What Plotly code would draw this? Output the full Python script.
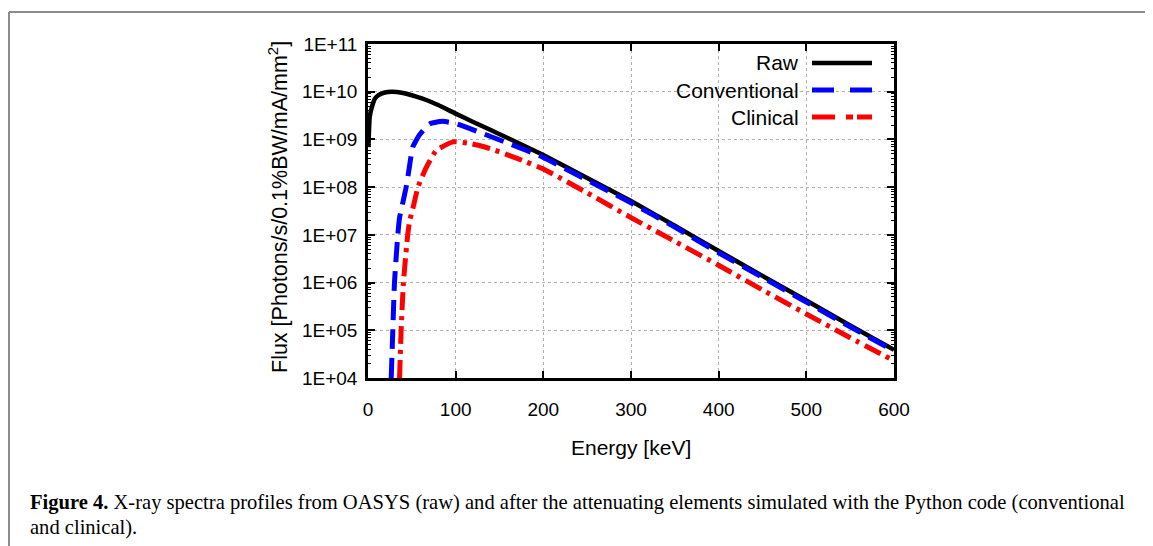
import plotly.graph_objects as go

# ---------------- data ----------------
raw_energy = [0.5, 2, 5, 8, 12, 18, 27, 40, 55, 66.5, 80, 100, 120, 140, 160,
              200, 250, 300, 350, 400, 450, 500, 550, 600]
raw_flux = [6.9e8, 3.0e9, 5.2e9, 7.2e9, 8.5e9, 9.5e9, 1.0e10, 9.4e9, 7.9e9, 6.7e9,
            5.25e9, 3.47e9, 2.32e9, 1.57e9, 1.06e9, 4.7e8, 1.55e8, 5.1e7, 1.55e7,
            4.6e6, 1.38e6, 4.2e5, 1.26e5, 3.9e4]

conv_energy = [26.5, 28.3, 30.2, 34, 36, 40, 43.5, 47, 51, 58.5, 70, 85, 100, 130,
               160, 200, 250, 300, 350, 400, 450, 500, 550, 600]
conv_flux = [1e4, 1e5, 1e6, 1e7, 2.3e7, 5e7, 1e8, 2.5e8, 6.9e8, 1.23e9, 2.1e9,
             2.4e9, 2.15e9, 1.35e9, 8.3e8, 4.2e8, 1.4e8, 4.7e7, 1.45e7, 4.2e6,
             1.28e6, 3.9e5, 1.18e5, 3.7e4]

clin_energy = [36, 37.8, 40.4, 45.3, 47.6, 51.5, 57, 66.5, 78, 97, 115, 130, 145,
               160, 180, 200, 250, 300, 350, 400, 450, 500, 550, 600]
clin_flux = [1e4, 1e5, 1e6, 1e7, 2e7, 3.8e7, 1e8, 2.6e8, 5.9e8, 8.9e8, 8.3e8,
             7.2e8, 5.9e8, 4.7e8, 3.4e8, 2.4e8, 7.6e7, 2.3e7, 7.3e6, 2.3e6, 7e5,
             2.2e5, 7e4, 2.3e4]

series_names = ["Raw", "Conventional", "Clinical"]
y_tickvals = [1e4, 1e5, 1e6, 1e7, 1e8, 1e9, 1e10, 1e11]
y_ticktext = ["1E+04", "1E+05", "1E+06", "1E+07", "1E+08", "1E+09", "1E+10", "1E+11"]
x_tickvals = [0, 100, 200, 300, 400, 500, 600]

caption_line1 = ("<b>Figure 4.</b> X-ray spectra profiles from OASYS (raw) and after the "
                 "attenuating elements simulated with the Python code (conventional")
caption_line2 = "and clinical)."

# ---------------- layout geometry (pixels of the page; the body has an 8px margin) ----
OFF = 8
W, H = 1153 - OFF, 546 - OFF
L, R, T, B = 368 - OFF, 894 - OFF, 44 - OFF, 378 - OFF


def px(xp):
    """page x pixel -> paper x"""
    return (xp - OFF - L) / (R - L)


def py(yp):
    """page y pixel -> paper y"""
    return (B - (yp - OFF)) / (B - T)


SANS = "Liberation Sans, Arial, sans-serif"
SERIF = "Liberation Serif, Times New Roman, serif"

styles = [
    dict(color="black", width=4.5, dash="solid", ldash="solid"),
    dict(color="#0000ff", width=5, dash="20px,9px", ldash="22px,16px"),
    dict(color="#ff0000", width=5, dash="18px,6px,4px,6px", ldash="23px,11px,7px,4px"),
]

fig = go.Figure()
for xs, ys, name, st in zip([raw_energy, conv_energy, clin_energy],
                            [raw_flux, conv_flux, clin_flux], series_names, styles):
    fig.add_trace(go.Scatter(x=xs, y=ys, mode="lines", name=name, showlegend=False,
                             line=dict(color=st["color"], width=st["width"],
                                       dash=st["dash"], shape="spline", smoothing=0.45)))

shapes = []
annotations = []

# white legend background (covers gridlines, under traces)
shapes.append(dict(type="rect", xref="paper", yref="paper", x0=px(650), x1=px(884),
                   y0=py(130), y1=py(46), fillcolor="white", line=dict(width=0),
                   layer="between"))

legend_y = [63, 90, 117]
for name, st, ly in zip(series_names, styles, legend_y):
    shapes.append(dict(type="line", xref="paper", yref="paper", x0=px(812), x1=px(872),
                       y0=py(ly), y1=py(ly),
                       line=dict(color=st["color"], width=st["width"], dash=st["ldash"]),
                       layer="above"))
    annotations.append(dict(text=name, xref="paper", yref="paper", x=px(801), y=py(ly),
                            xanchor="right", yanchor="middle", showarrow=False,
                            font=dict(family=SANS, size=21, color="black")))

# page frame (grey lines top and left)
shapes.append(dict(type="line", xref="paper", yref="paper", x0=px(9), x1=px(1170),
                   y0=py(12), y1=py(12), line=dict(color="#8c8c8c", width=2)))
shapes.append(dict(type="line", xref="paper", yref="paper", x0=px(9), x1=px(9),
                   y0=py(12), y1=py(570), line=dict(color="#8c8c8c", width=2)))

# axis titles
annotations.append(dict(text="Energy [keV]", xref="paper", yref="paper", x=px(631),
                        y=py(447), xanchor="center", yanchor="middle", showarrow=False,
                        font=dict(family=SANS, size=21, color="black")))
annotations.append(dict(text="Flux [Photons/s/0.1%BW/mA/mm<sup>2</sup>]", xref="paper",
                        yref="paper", x=px(278), y=py(207), xanchor="center",
                        yanchor="middle", textangle=-90, showarrow=False,
                        font=dict(family=SANS, size=21.5, color="black")))

# caption
annotations.append(dict(text=caption_line1, xref="paper", yref="paper", x=px(28),
                        y=py(502), xanchor="left", yanchor="middle", showarrow=False,
                        font=dict(family=SERIF, size=20.55, color="black")))
annotations.append(dict(text=caption_line2, xref="paper", yref="paper", x=px(28),
                        y=py(527), xanchor="left", yanchor="middle", showarrow=False,
                        font=dict(family=SERIF, size=20.55, color="black")))

fig.update_layout(
    width=W, height=H,
    margin=dict(l=L, r=W - R, t=T, b=H - B, pad=0),
    paper_bgcolor="white", plot_bgcolor="white",
    shapes=shapes, annotations=annotations,
    showlegend=False,
)

fig.update_xaxes(
    range=[0, 600], tickvals=x_tickvals, ticks="inside", ticklen=7, tickwidth=1.5,
    tickcolor="black", showline=True, linecolor="black", linewidth=2.5, mirror="allticks",
    showgrid=True, gridcolor="#b0b0b0", gridwidth=1, griddash="dot", zeroline=False,
    tickfont=dict(family=SANS, size=19, color="black"), ticklabelstandoff=12,
)
fig.update_yaxes(
    type="log", range=[4, 11], tickvals=y_tickvals, ticktext=y_ticktext, ticks="inside",
    ticklen=7, tickwidth=1.5, tickcolor="black", showline=True, linecolor="black",
    linewidth=2.5, mirror="allticks", showgrid=True, gridcolor="#b0b0b0", gridwidth=1,
    griddash="dot", zeroline=False,
    tickfont=dict(family=SANS, size=19, color="black"), ticklabelstandoff=4,
    minor=dict(ticks="inside", ticklen=3.5, tickwidth=1, tickcolor="black", dtick="D1",
               showgrid=False),
)

fig.write_html("out.html")
